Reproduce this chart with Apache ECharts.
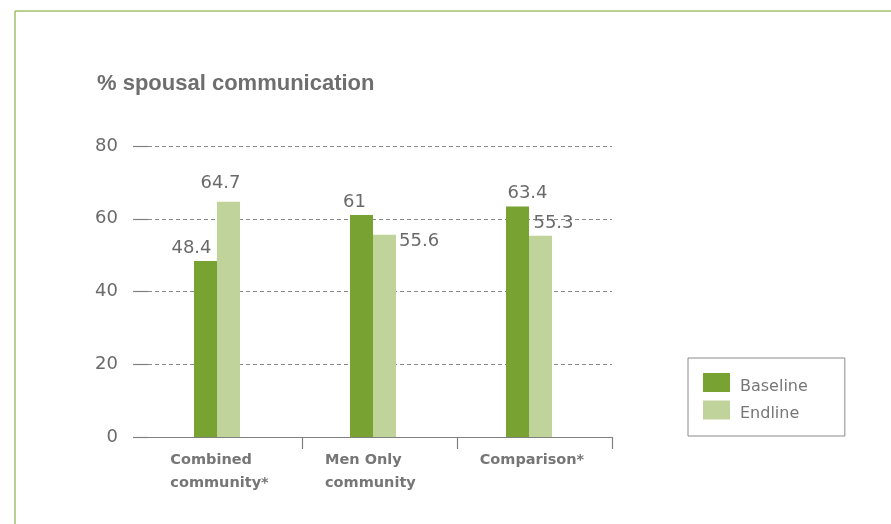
<!DOCTYPE html>
<html>
<head>
<meta charset="utf-8">
<script src="https://cdn.jsdelivr.net/npm/echarts@6/dist/echarts.min.js"></script>
<style>
html,body{margin:0;padding:0;background:#fff;}
#c{width:891px;height:524px;}
</style>
</head>
<body>
<div id="c"></div>
<script>
// ---- data ----
const categories = ['Combined community*', 'Men Only community', 'Comparison*'];
const categoryLines = [['Combined', 'community*'], ['Men Only', 'community'], ['Comparison*']];
const baseline = [48.4, 61, 63.4];
const endline = [64.7, 55.6, 55.3];
const yTicks = [0, 20, 40, 60, 80];

// ---- layout / style (not data) ----
const baselineLabelOffset = [[-14, 0], [-7, 0], [10, 0]];
const endlineLabelOffset = [[-8, -5], null, [13, 0]];
const DARK = '#78a232', LIGHT = '#c0d39b';
const GRAY = '#6a6a6a', AXIS = '#808080';
const FONT = 'DejaVu Sans';

const chart = echarts.init(document.getElementById('c'), null, {renderer: 'canvas'});

const labelBase = {show: true, position: 'top', distance: 4, fontFamily: FONT, fontSize: 18, color: GRAY};

const baselineData = baseline.map((v, i) => ({
  value: v,
  label: Object.assign({}, labelBase, {offset: baselineLabelOffset[i]})
}));
const endlineData = endline.map((v, i) => {
  if (endlineLabelOffset[i]) {
    return {value: v, label: Object.assign({}, labelBase, {offset: endlineLabelOffset[i]})};
  }
  return {value: v, label: Object.assign({}, labelBase, {position: ['100%', 0], align: 'left', verticalAlign: 'middle', offset: [3, 7]})};
});

const option = {
  animation: false,
  backgroundColor: '#fff',
  title: {
    text: '% spousal communication',
    left: 92, top: 68,
    textStyle: {fontFamily: 'Liberation Sans', fontWeight: 'bold', fontSize: 22, color: '#6e6e6e'}
  },
  graphic: [
    {type: 'line', shape: {x1: 15, y1: 11, x2: 891, y2: 11}, style: {stroke: '#a2c16a', lineWidth: 1.5}},
    {type: 'line', shape: {x1: 15, y1: 11, x2: 15, y2: 524}, style: {stroke: '#a2c16a', lineWidth: 1.5}}
  ],
  legend: {
    orient: 'vertical',
    left: 688, top: 358,
    padding: [15, 37, 14, 15],
    itemWidth: 27, itemHeight: 19, itemGap: 6,
    borderColor: '#8a8a8a', borderWidth: 1,
    icon: 'rect',
    formatter: function (name) { return '{t|' + name + '}'; },
    textStyle: {
      fontFamily: FONT, fontSize: 16, color: '#777',
      rich: {t: {fontFamily: FONT, fontSize: 16, color: '#777', padding: [8, 0, 0, 5]}}
    },
    data: ['Baseline', 'Endline']
  },
  grid: [
    {left: 139, width: 468, top: 146, bottom: 87},
    {left: 148, width: 464, top: 146, bottom: 87}
  ],
  xAxis: [
    {type: 'category', gridIndex: 0, data: categories, show: false},
    {
      type: 'value', gridIndex: 1, min: 0, max: 3,
      axisLine: {show: true, lineStyle: {color: AXIS, width: 1.2}},
      axisTick: {show: true, customValues: [1, 2, 3], length: 12, lineStyle: {color: AXIS, width: 1.2}},
      axisLabel: {
        show: true, customValues: [0.5, 1.5, 2.5], margin: 12,
        formatter: function (v) {
          const idx = Math.floor(v);
          return categoryLines[idx].map(t => '{a|' + t + '}').join('\n');
        },
        rich: {
          a: {width: 110, align: 'left', fontFamily: FONT, fontWeight: 'bold', fontSize: 14.5, color: '#767676', lineHeight: 23}
        }
      },
      splitLine: {show: false}
    }
  ],
  yAxis: [
    {type: 'value', gridIndex: 0, min: 0, max: 80, interval: 20, show: false},
    {
      type: 'value', gridIndex: 1, min: 0, max: 80, interval: 20,
      axisLine: {show: false},
      axisTick: {show: true, length: 15, lineStyle: {color: AXIS, width: 1.2}},
      axisLabel: {
        margin: 30, fontFamily: FONT, fontSize: 18, color: GRAY,
        customValues: yTicks
      },
      splitLine: {show: true, lineStyle: {color: '#8a8a8a', type: [4, 3], width: 1}}
    }
  ],
  series: [
    {name: 'Baseline', type: 'bar', xAxisIndex: 0, yAxisIndex: 0, barWidth: 23, barGap: '0%', itemStyle: {color: DARK}, data: baselineData, z: 3},
    {name: 'Endline', type: 'bar', xAxisIndex: 0, yAxisIndex: 0, barWidth: 23, barGap: '0%', itemStyle: {color: LIGHT}, data: endlineData, z: 3}
  ]
};
chart.setOption(option);
</script>
</body>
</html>
